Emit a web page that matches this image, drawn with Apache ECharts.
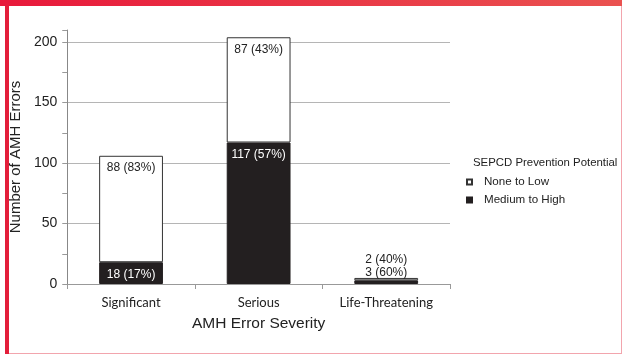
<!DOCTYPE html>
<html>
<head>
<meta charset="utf-8">
<script src="https://cdn.jsdelivr.net/npm/echarts@6/dist/echarts.min.js"></script>
<style>
html,body{margin:0;padding:0;background:#fff;}
#chart{width:622px;height:354px;}
</style>
</head>
<body>
<div id="chart"></div>
<script>
var categories = ['Significant', 'Serious', 'Life-Threatening'];
var mediumToHigh = [18, 117, 3];
var noneToLow = [88, 87, 2];
var yTickLabels = [0, 50, 100, 150, 200];
var seriesNames = ['None to Low', 'Medium to High'];
var legendTitle = 'SEPCD Prevention Potential';
var xAxisName = 'AMH Error Severity';
var yAxisName = 'Number of AMH Errors';

function pct(v, i) {
  var t = mediumToHigh[i] + noneToLow[i];
  return v + ' (' + Math.round(v / t * 100) + '%)';
}

var chart = echarts.init(document.getElementById('chart'), null, {renderer: 'canvas'});

var blackData = mediumToHigh.map(function (v, i) {
  var d = {value: v};
  if (i === 2) d.label = {position: 'top', distance: 2, color: '#222'};
  return d;
});
var whiteData = noneToLow.map(function (v, i) {
  var d = {value: v};
  if (i === 2) d.label = {position: 'top', distance: 12, color: '#222'};
  return d;
});

chart.setOption({
  animation: false,
  backgroundColor: '#fff',
  textStyle: {fontFamily: 'Liberation Sans, Arial, sans-serif'},
  title: {
    text: legendTitle,
    left: 468, top: 152,
    textStyle: {fontSize: 11.4, fontWeight: 'normal', color: '#222', fontFamily: 'Liberation Sans, Arial, sans-serif'}
  },
  legend: {
    data: seriesNames,
    orient: 'vertical',
    left: 461, top: 171,
    icon: 'rect',
    itemWidth: 5, itemHeight: 5,
    itemGap: 6,
    textStyle: {fontSize: 11.6, color: '#222', padding: [0, 0, 0, 7]}
  },
  grid: {left: 63, right: 172, top: 30, bottom: 70},
  xAxis: {
    type: 'category',
    data: categories,
    name: xAxisName,
    nameLocation: 'middle',
    nameGap: 32,
    nameTextStyle: {fontSize: 15.5, color: '#222'},
    axisLine: {lineStyle: {color: '#999'}},
    axisTick: {show: true, length: 5, lineStyle: {color: '#999'}},
    axisLabel: {fontSize: 13, color: '#222', margin: 12, fontFamily: 'Lato, Open Sans, sans-serif'}
  },
  yAxis: {
    type: 'value',
    min: 0, max: 210, interval: 50,
    name: yAxisName,
    nameLocation: 'middle',
    nameGap: 33,
    nameTextStyle: {fontSize: 15, color: '#222'},
    axisLine: {show: true, lineStyle: {color: '#888'}},
    axisTick: {show: true, length: 5, lineStyle: {color: '#999'}},
    minorTick: {show: true, splitNumber: 2, length: 5, lineStyle: {color: '#999'}},
    axisLabel: {
      fontSize: 14, color: '#222', margin: 10, showMaxLabel: false,
      formatter: function (v) { return yTickLabels.indexOf(v) >= 0 ? String(v) : ''; }
    },
    splitLine: {show: true, showMaxLine: false, lineStyle: {color: '#b5b5b5'}}
  },
  series: [
    {
      name: seriesNames[1],
      type: 'bar',
      stack: 'total',
      barWidth: '50%',
      data: blackData,
      itemStyle: {color: '#231f20', borderColor: '#231f20', borderWidth: 1},
      label: {
        show: true, position: 'insideTop', distance: 6, color: '#fff', fontSize: 12,
        formatter: function (p) { return pct(p.value, p.dataIndex); }
      }
    },
    {
      name: seriesNames[0],
      type: 'bar',
      stack: 'total',
      barWidth: '50%',
      data: whiteData,
      itemStyle: {color: '#fff', borderColor: '#333', borderWidth: 1},
      label: {
        show: true, position: 'insideTop', distance: 6, color: '#222', fontSize: 12,
        formatter: function (p) { return pct(p.value, p.dataIndex); }
      }
    }
  ],
  graphic: [
    {type: 'rect', shape: {x: 0, y: 0, width: 622, height: 6}, silent: true,
      style: {fill: new echarts.graphic.LinearGradient(0, 0, 1, 0, [{offset: 0, color: '#e8193b'}, {offset: 1, color: '#ea5250'}])}},
    {type: 'rect', shape: {x: 5, y: 6, width: 4, height: 348}, silent: true, style: {fill: '#e31e3a'}},
    {type: 'rect', shape: {x: 9, y: 353, width: 613, height: 1}, silent: true, style: {fill: '#f2a5ad'}},
    {type: 'rect', shape: {x: 621, y: 6, width: 1, height: 348}, silent: true, style: {fill: '#f2a5ad'}}
  ]
});
</script>
</body>
</html>
